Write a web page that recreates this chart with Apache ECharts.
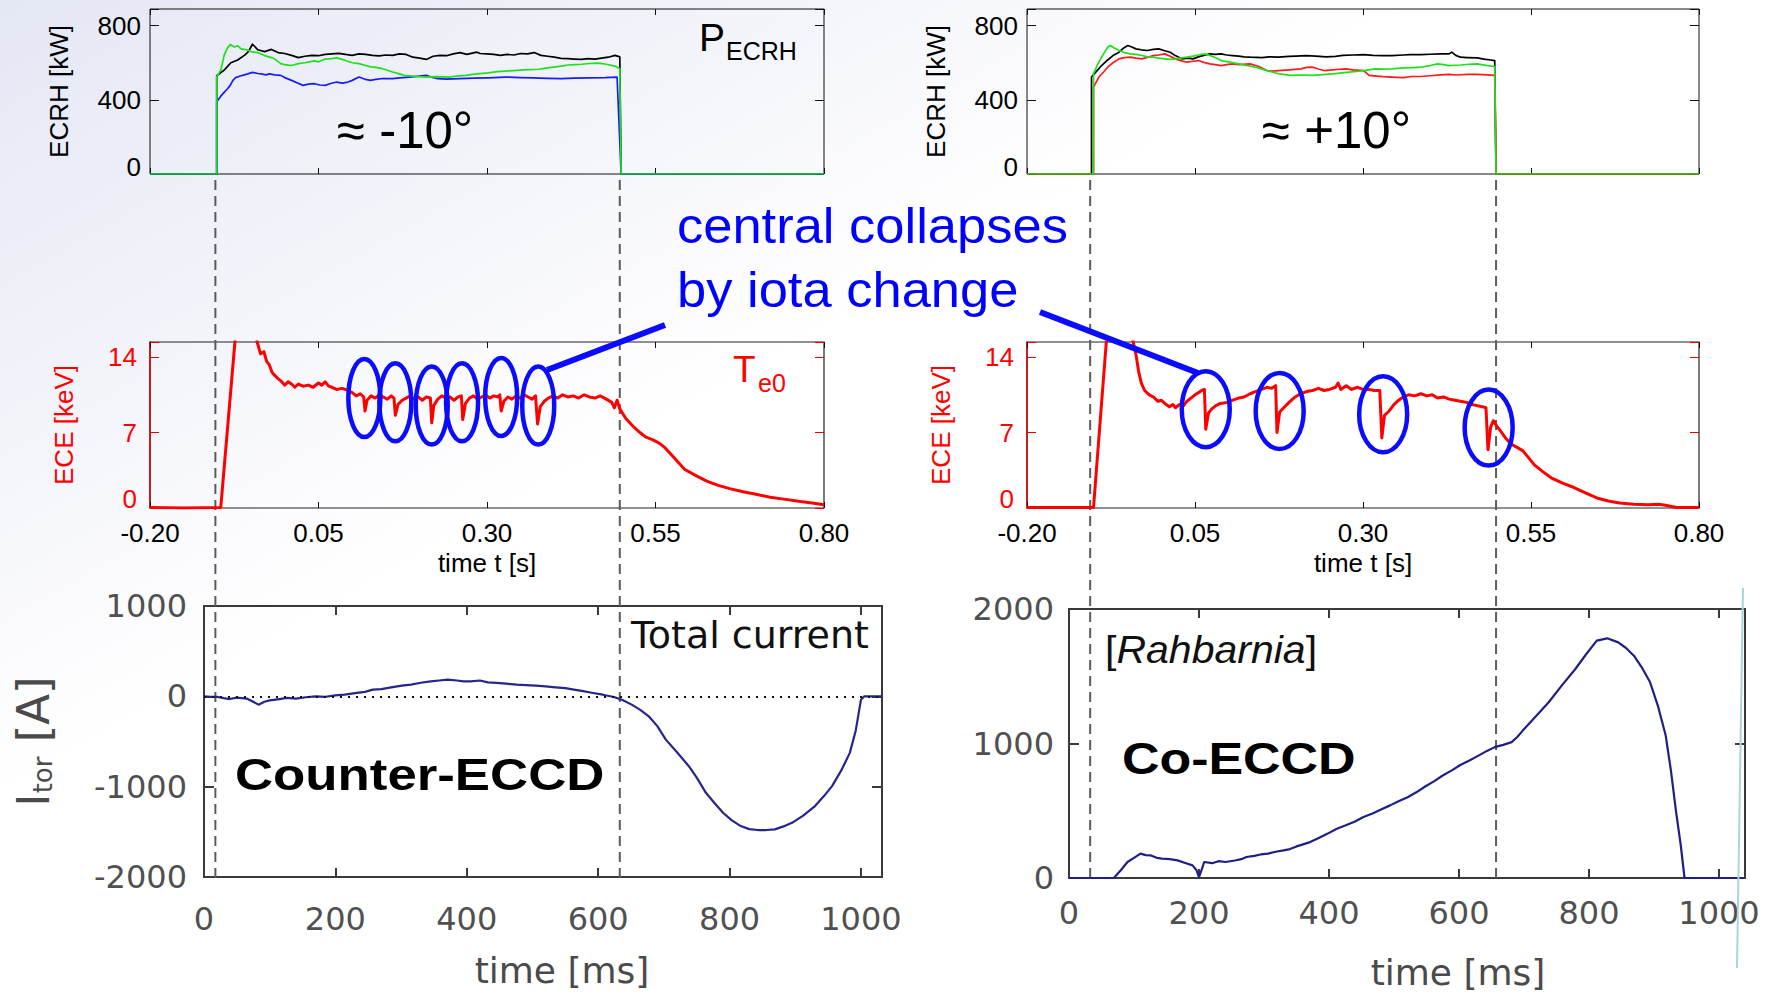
<!DOCTYPE html>
<html><head><meta charset="utf-8">
<script src="https://cdn.jsdelivr.net/npm/echarts@6/dist/echarts.min.js"></script>
<style>html,body{margin:0;padding:0;background:#fff}#c{width:1772px;height:996px}</style>
</head><body><div id="c"></div>
<script>
// ---------------- DATA ----------------
const timeTicks = [-0.20, 0.05, 0.30, 0.55, 0.80];
const ecrhTicks = [0, 400, 800];
const eceTicks = [0, 7, 14];
const msTicks = [0, 200, 400, 600, 800, 1000];
const itorLeftTicks = [-2000, -1000, 0, 1000];
const itorRightTicks = [0, 1000, 2000];

const dashTimesLeft = [-0.103, 0.497];
const dashTimesRight = [-0.106, 0.498];

const ecrhLeftBlack = [[-0.2,0],[-0.101,0],[-0.101,530],[-0.09,560],[-0.08,600],[-0.07,615],[-0.06,640],[-0.054,660],[-0.048,700],[-0.04,670],[-0.03,660],[-0.02,672],[-0.01,655],[0.0,650],[0.01,640],[0.02,628],[0.03,635],[0.04,640],[0.05,638],[0.06,645],[0.07,648],[0.08,651],[0.09,645],[0.10,640],[0.11,648],[0.12,645],[0.13,640],[0.14,637],[0.15,642],[0.16,640],[0.17,648],[0.18,645],[0.19,630],[0.20,625],[0.21,618],[0.22,635],[0.23,640],[0.24,638],[0.25,648],[0.26,655],[0.27,645],[0.285,657],[0.29,650],[0.30,648],[0.31,645],[0.32,640],[0.33,645],[0.34,642],[0.35,650],[0.36,648],[0.37,655],[0.38,640],[0.39,635],[0.40,630],[0.41,624],[0.42,622],[0.43,620],[0.44,618],[0.45,622],[0.46,620],[0.47,625],[0.48,630],[0.49,640],[0.497,632],[0.499,0],[0.8,0]];
const ecrhLeftBlue = [[-0.2,0],[-0.101,0],[-0.101,390],[-0.095,420],[-0.09,440],[-0.085,460],[-0.081,478],[-0.077,505],[-0.073,520],[-0.065,530],[-0.06,535],[-0.055,540],[-0.048,548],[-0.04,542],[-0.035,540],[-0.028,535],[-0.023,540],[-0.015,535],[-0.006,532],[0.0,520],[0.01,505],[0.018,492],[0.027,478],[0.035,485],[0.044,487],[0.052,480],[0.06,478],[0.068,488],[0.077,496],[0.085,490],[0.094,496],[0.10,505],[0.11,523],[0.118,512],[0.127,505],[0.135,510],[0.145,515],[0.16,514],[0.17,518],[0.185,523],[0.20,528],[0.21,532],[0.218,522],[0.227,514],[0.24,512],[0.26,514],[0.28,517],[0.302,519],[0.327,523],[0.35,520],[0.368,519],[0.39,516],[0.41,514],[0.43,517],[0.452,519],[0.475,520],[0.493,523],[0.499,0],[0.8,0]];
const ecrhLeftGreen = [[-0.2,0],[-0.101,0],[-0.101,525],[-0.095,560],[-0.09,640],[-0.085,680],[-0.081,698],[-0.075,685],[-0.07,692],[-0.065,675],[-0.056,670],[-0.05,660],[-0.04,655],[-0.031,640],[-0.02,628],[-0.015,620],[-0.006,595],[0.0,590],[0.01,585],[0.02,595],[0.03,600],[0.044,610],[0.05,605],[0.06,620],[0.07,622],[0.077,626],[0.085,618],[0.09,612],[0.10,600],[0.11,595],[0.12,585],[0.127,578],[0.135,575],[0.145,568],[0.16,550],[0.17,540],[0.177,532],[0.19,528],[0.20,525],[0.21,523],[0.225,525],[0.243,523],[0.255,528],[0.268,532],[0.285,540],[0.302,545],[0.315,552],[0.327,555],[0.34,558],[0.355,562],[0.377,565],[0.39,572],[0.41,582],[0.42,588],[0.43,590],[0.44,592],[0.452,596],[0.465,598],[0.477,592],[0.49,582],[0.497,568],[0.499,0],[0.8,0]];

const ecrhRightBlack = [[-0.2,0],[-0.104,0],[-0.104,523],[-0.095,560],[-0.089,585],[-0.08,615],[-0.072,639],[-0.063,657],[-0.056,680],[-0.05,693],[-0.044,685],[-0.038,675],[-0.03,670],[-0.021,666],[-0.012,672],[-0.004,675],[0.005,665],[0.013,657],[0.02,640],[0.03,621],[0.04,625],[0.047,621],[0.055,632],[0.063,640],[0.072,648],[0.08,645],[0.089,648],[0.097,642],[0.106,639],[0.115,636],[0.123,632],[0.132,630],[0.15,628],[0.16,632],[0.174,630],[0.19,634],[0.2,636],[0.216,639],[0.23,636],[0.245,632],[0.259,634],[0.27,640],[0.285,642],[0.301,644],[0.315,640],[0.33,638],[0.343,639],[0.36,642],[0.37,644],[0.386,644],[0.40,646],[0.415,648],[0.428,648],[0.432,657],[0.438,640],[0.445,630],[0.455,628],[0.47,626],[0.48,620],[0.49,615],[0.496,612],[0.498,0],[0.8,0]];
const ecrhRightRed = [[-0.2,0],[-0.101,0],[-0.101,469],[-0.093,523],[-0.086,550],[-0.08,576],[-0.072,600],[-0.063,621],[-0.055,628],[-0.046,630],[-0.038,625],[-0.029,621],[-0.02,630],[-0.012,639],[-0.004,642],[0.005,648],[0.013,635],[0.021,621],[0.03,610],[0.038,603],[0.047,608],[0.055,612],[0.063,602],[0.072,594],[0.08,590],[0.089,585],[0.097,590],[0.106,594],[0.115,590],[0.132,594],[0.145,580],[0.157,558],[0.165,555],[0.174,558],[0.19,562],[0.208,567],[0.216,575],[0.225,576],[0.235,565],[0.242,558],[0.255,562],[0.265,565],[0.275,567],[0.285,562],[0.301,558],[0.309,532],[0.32,528],[0.33,525],[0.343,523],[0.36,520],[0.372,526],[0.386,526],[0.40,530],[0.415,535],[0.428,537],[0.44,534],[0.455,537],[0.47,537],[0.485,535],[0.496,532],[0.498,0],[0.8,0]];
const ecrhRightGreen = [[-0.2,0],[-0.101,0],[-0.101,541],[-0.095,590],[-0.089,630],[-0.084,660],[-0.08,684],[-0.076,693],[-0.07,680],[-0.063,666],[-0.055,655],[-0.046,648],[-0.038,645],[-0.029,639],[-0.02,632],[-0.012,630],[-0.004,625],[0.005,621],[0.013,618],[0.021,621],[0.03,626],[0.038,630],[0.047,636],[0.055,642],[0.064,648],[0.072,640],[0.08,628],[0.089,612],[0.1,605],[0.115,594],[0.128,585],[0.14,576],[0.155,560],[0.174,541],[0.191,532],[0.205,534],[0.225,532],[0.24,536],[0.259,541],[0.275,548],[0.29,553],[0.301,558],[0.318,567],[0.33,566],[0.343,567],[0.36,572],[0.375,574],[0.386,576],[0.4,585],[0.411,594],[0.42,590],[0.428,585],[0.445,588],[0.458,592],[0.47,594],[0.485,585],[0.496,580],[0.498,0],[0.8,0]];

const eceLeft = [[-0.20,0.05],[-0.15,0.0],[-0.095,0.05],[-0.074,15.4],[-0.065,21],[-0.052,21],[-0.041,15.4],[-0.036,14.3],[-0.031,14.5],[-0.027,13.6],[-0.023,13.3],[-0.019,12.6],[-0.015,12.3],[-0.010,12.0],[-0.006,11.8],[0.000,11.4],[0.005,11.7],[0.010,11.5],[0.015,11.2],[0.020,11.5],[0.027,11.3],[0.035,11.4],[0.042,11.2],[0.050,11.6],[0.055,11.4],[0.060,11.7],[0.065,11.3],[0.070,11.2],[0.077,11.0],[0.085,11.1],[0.094,10.9],[0.100,10.7],[0.106,10.4],[0.112,10.6],[0.117,10.3],[0.119,9.0],[0.122,10.0],[0.128,10.4],[0.134,10.2],[0.140,10.5],[0.146,10.3],[0.152,10.1],[0.158,10.4],[0.162,10.2],[0.164,8.6],[0.168,9.6],[0.174,10.0],[0.180,10.2],[0.186,10.4],[0.192,10.1],[0.198,10.3],[0.204,10.0],[0.210,10.3],[0.216,10.2],[0.218,7.9],[0.221,9.5],[0.227,10.1],[0.233,10.4],[0.239,10.2],[0.245,10.3],[0.251,10.0],[0.257,10.3],[0.262,10.4],[0.264,8.2],[0.268,9.7],[0.274,10.2],[0.280,10.4],[0.286,10.1],[0.292,10.3],[0.298,10.5],[0.304,10.2],[0.310,10.4],[0.316,10.3],[0.319,10.5],[0.321,9.0],[0.325,9.9],[0.331,10.3],[0.337,10.1],[0.343,10.4],[0.349,10.2],[0.355,10.5],[0.361,10.3],[0.367,10.1],[0.372,10.4],[0.375,7.8],[0.379,9.4],[0.385,9.9],[0.391,10.2],[0.398,10.4],[0.405,10.2],[0.412,10.5],[0.420,10.3],[0.428,10.4],[0.436,10.2],[0.444,10.5],[0.452,10.3],[0.460,10.2],[0.468,10.4],[0.477,10.1],[0.485,9.8],[0.489,9.3],[0.493,10.0],[0.497,9.2],[0.506,8.3],[0.518,7.5],[0.527,7.0],[0.535,6.6],[0.547,6.3],[0.556,6.0],[0.564,5.6],[0.577,4.7],[0.593,3.6],[0.610,3.0],[0.626,2.5],[0.643,2.1],[0.660,1.8],[0.680,1.5],[0.701,1.25],[0.720,1.0],[0.743,0.8],[0.765,0.6],[0.785,0.45],[0.800,0.3]];
const eceRight = [[-0.20,0.05],[-0.15,0.05],[-0.101,0.05],[-0.082,15.4],[-0.07,22],[-0.055,22],[-0.042,15.4],[-0.038,14.3],[-0.034,12.7],[-0.030,11.6],[-0.025,10.9],[-0.018,10.5],[-0.012,10.3],[-0.005,9.9],[0.000,10.0],[0.005,9.7],[0.012,9.4],[0.017,9.6],[0.021,9.3],[0.027,9.6],[0.033,9.5],[0.038,9.9],[0.044,10.2],[0.050,10.5],[0.055,10.7],[0.060,10.9],[0.064,11.0],[0.066,7.3],[0.070,8.8],[0.075,9.2],[0.081,9.5],[0.088,9.7],[0.098,9.8],[0.106,10.0],[0.115,10.2],[0.123,10.3],[0.132,10.6],[0.140,10.8],[0.149,11.0],[0.157,11.2],[0.164,11.1],[0.170,11.35],[0.172,7.0],[0.176,8.9],[0.182,9.3],[0.190,9.8],[0.199,10.3],[0.207,10.6],[0.216,10.8],[0.225,10.9],[0.234,11.1],[0.242,10.9],[0.250,11.0],[0.259,11.2],[0.263,11.6],[0.267,11.0],[0.275,11.35],[0.283,11.0],[0.292,11.2],[0.300,11.0],[0.309,11.0],[0.317,10.9],[0.325,10.9],[0.328,6.5],[0.332,8.6],[0.339,9.0],[0.346,9.6],[0.353,10.0],[0.360,10.3],[0.368,10.5],[0.377,10.4],[0.386,10.6],[0.395,10.4],[0.403,10.5],[0.411,10.2],[0.420,10.3],[0.428,10.1],[0.437,10.0],[0.445,9.9],[0.454,9.8],[0.462,9.6],[0.470,9.5],[0.477,9.4],[0.483,9.3],[0.486,5.4],[0.490,7.5],[0.494,8.1],[0.499,7.6],[0.504,7.2],[0.512,6.5],[0.521,5.9],[0.530,5.6],[0.538,5.3],[0.546,4.7],[0.555,4.0],[0.567,3.4],[0.580,2.8],[0.597,2.3],[0.614,1.9],[0.631,1.4],[0.648,0.93],[0.665,0.65],[0.682,0.47],[0.703,0.35],[0.724,0.3],[0.740,0.35],[0.750,0.25],[0.767,0.05],[0.800,0.05]];

const collapsesLeft = [[0.118,10.2],[0.164,9.8],[0.218,9.5],[0.263,9.8],[0.321,10.3],[0.376,9.5]];
const collapsesRight = [[0.066,9.17],[0.176,9.0],[0.330,8.7],[0.487,7.46]];

const itorLeft = [[0,0],[10,-5],[21,-7],[30,-20],[39,-30],[50,-15],[65,-25],[75,-60],[83,-92],[92,-60],[100,-45],[115,-30],[126,-18],[140,-25],[155,-10],[170,0],[185,-5],[200,10],[214,18],[230,35],[245,50],[257,74],[270,80],[285,100],[301,118],[315,130],[330,150],[345,166],[358,175],[371,184],[385,175],[395,165],[406,166],[420,175],[432,155],[445,150],[460,140],[476,129],[490,125],[505,118],[520,110],[535,100],[550,90],[563,74],[575,60],[590,40],[607,18],[624,-7],[637,-40],[651,-92],[664,-150],[677,-221],[690,-330],[703,-479],[720,-620],[738,-773],[750,-900],[764,-1068],[777,-1180],[790,-1289],[803,-1370],[817,-1436],[830,-1470],[843,-1480],[856,-1480],[869,-1473],[882,-1440],[895,-1400],[912,-1320],[930,-1215],[943,-1110],[956,-994],[970,-820],[983,-626],[992,-380],[1000,-37],[1005,0],[1032,0]];
const itorRight = [[0,0],[40,0],[69,0],[80,60],[90,119],[100,150],[110,181],[118,170],[126,168],[135,150],[143,144],[155,140],[167,131],[180,110],[190,94],[196,60],[200,7],[204,60],[208,119],[220,110],[230,125],[241,119],[255,130],[265,140],[273,156],[285,165],[295,175],[306,181],[318,195],[330,205],[340,215],[350,235],[360,250],[371,267],[385,300],[398,330],[412,366],[425,390],[440,420],[453,453],[467,480],[480,510],[494,540],[507,570],[521,600],[535,639],[548,680],[562,720],[575,762],[589,800],[602,840],[616,874],[630,910],[643,945],[655,973],[668,990],[681,1010],[690,1050],[698,1096],[718,1200],[738,1307],[758,1430],[779,1554],[795,1660],[812,1765],[828,1782],[845,1752],[857,1710],[869,1653],[882,1560],[894,1455],[906,1280],[918,1059],[926,800],[934,490],[941,250],[947,0],[1038,0]];

// ---------------- LAYOUT / STYLE ----------------
const FONT = '"Liberation Sans", Arial, sans-serif';
const DVS = '"DejaVu Sans", sans-serif';
const GRIDS = [
  {left:150, top:9, width:674, height:165},
  {left:1027, top:9, width:672, height:165},
  {left:150, top:342, width:674, height:166},
  {left:1027, top:342, width:672, height:166},
  {left:204, top:606, width:678, height:271},
  {left:1069, top:609, width:676, height:269},
  {left:150, top:176, width:674, height:702},
  {left:1027, top:176, width:672, height:702}
];
const gridBorders = [
  ['#111',1],['#111',1],['#222',1.2],['#222',1.2],['#3a3a3a',2],['#3a3a3a',2],null,null
];

function near(list, v){ return list.some(t => Math.abs(t - v) < 1e-6); }
const xAxes = [], yAxes = [];
function axisDef(gi, pos, o, mirror) {
  const a = {
    gridIndex: gi, type:'value', position: pos, min:o.min, max:o.max, interval:o.interval,
    axisLine: {show: !mirror && !!o.lineColor, onZero:false, lineStyle:{color:o.lineColor || '#000', width:1.5}},
    axisTick: {show:true, inside:true, length:o.tickLen, lineStyle:{color:o.tickColor, width:o.tickWidth || 1}},
    splitLine: {show:false},
    axisLabel: {show:false}
  };
  if (!mirror && o.labels) {
    a.axisLabel = {show:true, margin:o.margin, color:o.labelColor, fontSize:o.fontSize, fontFamily:o.fontFamily,
      formatter: v => {
        if (!near(o.ticks, v)) return '';
        if (o.zeroUp && Math.abs(v) < 1e-9) return '{z|' + o.fmt(v) + '}';
        return o.fmt(v);
      },
      rich: o.zeroUp ? {z:{fontSize:o.fontSize, fontFamily:o.fontFamily, color:o.labelColor, padding:[0,0,o.zeroUp,0]}} : undefined};
  }
  if (!mirror && o.name) {
    a.name = o.name; a.nameLocation = 'middle'; a.nameGap = o.nameGap;
    if (o.nameRotate !== undefined) a.nameRotate = o.nameRotate;
    a.nameTextStyle = o.nameStyle;
  }
  return a;
}
function boxAxes(gi, xo, yo) {
  xAxes.push(axisDef(gi, 'bottom', xo, false));
  xAxes.push(axisDef(gi, 'top', xo, true));
  yAxes.push(axisDef(gi, 'left', yo, false));
  yAxes.push(axisDef(gi, 'right', yo, true));
}
const fmt2 = v => v.toFixed(2);
const fmtI = v => String(v);

// grid 0,1: ECRH
for (const gi of [0,1]) {
  boxAxes(gi,
    {min:-0.2, max:0.8, interval:0.25, ticks:timeTicks, labels:false, tickLen:6, tickColor:'#111'},
    {min:0, max:890, interval:400, ticks:ecrhTicks, labels:true, fmt:fmtI, margin:9, labelColor:'#000', fontSize:26, fontFamily:FONT,
     zeroUp:14, tickLen:9, tickColor:'#111', name:'ECRH [kW]', nameGap:78, nameRotate:90,
     nameStyle:{fontSize:26, fontFamily:FONT, color:'#000'}});
}
// grid 2,3: ECE
for (const gi of [2,3]) {
  boxAxes(gi,
    {min:-0.2, max:0.8, interval:0.25, ticks:timeTicks, labels:true, fmt:fmt2, margin:12, labelColor:'#000', fontSize:26, fontFamily:FONT,
     tickLen:6, tickColor:'#111', name:'time t [s]', nameGap:42, nameStyle:{fontSize:26, fontFamily:FONT, color:'#000'}},
    {min:0, max:15.4, interval:7, ticks:eceTicks, labels:true, fmt:fmtI, margin:13, labelColor:'#ff0000', fontSize:26, fontFamily:FONT,
     zeroUp:18, tickLen:9, tickColor:'#e00000', lineColor:'#e00000', name:'ECE [keV]', nameGap:73, nameRotate:90,
     nameStyle:{fontSize:26, fontFamily:FONT, color:'#ff0000'}});
}
// grid 4: I_tor left
boxAxes(4,
  {min:0, max:1032, interval:200, ticks:msTicks, labels:true, fmt:fmtI, margin:26, labelColor:'#505050', fontSize:32, fontFamily:DVS,
   tickLen:9, tickColor:'#3a3a3a', tickWidth:2, name:'time [ms]', nameGap:75,
   nameStyle:{fontSize:36, fontFamily:DVS, color:'#4a4a4a', padding:[0,0,0,38]}},
  {min:-2000, max:1000, interval:1000, ticks:itorLeftTicks, labels:true, fmt:fmtI, margin:17, labelColor:'#505050', fontSize:32, fontFamily:DVS,
   tickLen:10, tickColor:'#3a3a3a', tickWidth:2, name:'{i|I}{s|tor}{i| [A]}', nameGap:148, nameRotate:90,
   nameStyle:{color:'#4a4a4a', fontFamily:DVS, rich:{
     i:{fontSize:45, fontFamily:DVS, color:'#4a4a4a', verticalAlign:'bottom'},
     s:{fontSize:26, fontFamily:DVS, color:'#4a4a4a', verticalAlign:'bottom'}}}});
// grid 5: I_tor right
boxAxes(5,
  {min:0, max:1040, interval:200, ticks:msTicks, labels:true, fmt:fmtI, margin:19, labelColor:'#505050', fontSize:32, fontFamily:DVS,
   tickLen:9, tickColor:'#3a3a3a', tickWidth:2, name:'time [ms]', nameGap:76,
   nameStyle:{fontSize:36, fontFamily:DVS, color:'#4a4a4a', padding:[0,0,0,102]}},
  {min:0, max:2000, interval:1000, ticks:itorRightTicks, labels:true, fmt:fmtI, margin:15, labelColor:'#505050', fontSize:32, fontFamily:DVS,
   tickLen:10, tickColor:'#3a3a3a', tickWidth:2});
// overlay grids 6,7 (dashed timing lines)
for (const gi of [6,7]) {
  xAxes.push({gridIndex:gi, type:'value', min:-0.2, max:0.8, show:false, axisLine:{onZero:false}});
  yAxes.push({gridIndex:gi, type:'value', min:0, max:1, show:false, axisLine:{onZero:false}});
}

const grids = GRIDS.map((g, i) => {
  const b = gridBorders[i];
  return Object.assign({}, g, {containLabel:false, outerBoundsMode:'none',
    show: !!b, borderColor: b ? b[0] : 'transparent', borderWidth: b ? b[1] : 0, backgroundColor:'transparent'});
});

function lineS(gi, data, color, width, z) {
  return {type:'line', xAxisIndex: gi < 6 ? 2*gi : 6 + gi, yAxisIndex: gi < 6 ? 2*gi : 6 + gi,
    data, symbol:'none', showSymbol:false, silent:true, animation:false, z: z || 3,
    lineStyle:{color, width, join:'round'}};
}
function ellipseS(gi, data, rx, ry) {
  return {type:'custom', xAxisIndex:2*gi, yAxisIndex:2*gi, data, silent:true, animation:false, z:6,
    renderItem: (params, api) => {
      const c = api.coord([api.value(0), api.value(1)]);
      return {type:'ellipse', shape:{cx:c[0], cy:c[1], rx, ry},
        style:{fill:'none', stroke:'#0b0bff', lineWidth:4.5}};
    }};
}
function dashS(gi, t) {
  const s = lineS(gi, [[t,0],[t,1]], '#5c5c5c', 2, 1);
  s.lineStyle.type = [10,6];
  return s;
}

const series = [
  lineS(0, ecrhLeftBlack, '#000000', 1.7),
  lineS(0, ecrhLeftBlue, '#1a1aff', 1.7),
  lineS(0, ecrhLeftGreen, '#1ee01e', 1.7),
  lineS(1, ecrhRightBlack, '#000000', 1.7),
  lineS(1, ecrhRightRed, '#ff1a1a', 1.7),
  lineS(1, ecrhRightGreen, '#1ee01e', 1.7),
  lineS(2, eceLeft, '#ff0000', 3),
  lineS(3, eceRight, '#ff0000', 3),
  ellipseS(2, collapsesLeft, 16, 39),
  ellipseS(3, collapsesRight, 24, 38),
  Object.assign(lineS(4, itorLeft, '#25258c', 2.2), {
    markLine:{silent:true, symbol:'none', animation:false, label:{show:false},
      lineStyle:{type:[2,6], color:'#111', width:2}, data:[{yAxis:0}]}}),
  lineS(5, itorRight, '#1f1f85', 2.2)
];
dashTimesLeft.forEach(t => series.push(dashS(6, t)));
dashTimesRight.forEach(t => series.push(dashS(7, t)));

function txt(x, y, text, size, color, opts) {
  opts = opts || {};
  return Object.assign({type:'text', x, y, z:20, silent:true,
    style:Object.assign({text, fontSize:size, fontFamily:opts.family || FONT, fontWeight:opts.weight || 'normal',
      fontStyle: opts.italic ? 'italic' : 'normal', fill:color, align:'left', verticalAlign:'middle'}, opts.style || {})},
    opts.scaleX ? {scaleX: opts.scaleX} : {});
}

const graphic = [
  txt(337, 130, '≈ -10°', 51, '#000'),
  txt(1262, 130, '≈ +10°', 51, '#000'),
  txt(699, 37, 'P', 39, '#000'),
  txt(726, 51, 'ECRH', 25, '#000'),
  txt(733, 369, 'T', 37, '#ff0000'),
  txt(758, 383, 'e0', 25, '#ff0000'),
  txt(677, 226, 'central collapses', 50, '#0000ff', {scaleX:1.05}),
  txt(677, 290, 'by iota change', 50, '#0000ff', {scaleX:1.05}),
  txt(631, 635, 'Total current', 38, '#111', {family:DVS}),
  txt(235, 775, 'Counter-ECCD', 44, '#000', {weight:'bold', scaleX:1.2}),
  {type:'text', x:1105, y:650, z:20, silent:true, scaleX:1.08,
    style:{text:'{n|[}{it|Rahbarnia}{n|]}', fontSize:38, fontFamily:FONT, fill:'#111', align:'left', verticalAlign:'middle',
      rich:{n:{fontSize:38, fontFamily:FONT, fill:'#111'}, it:{fontSize:38, fontFamily:FONT, fontStyle:'italic', fill:'#111'}}}},
  txt(1122, 758, 'Co-ECCD', 44, '#000', {weight:'bold', scaleX:1.18}),
  {type:'line', z:7, silent:true, shape:{x1:547, y1:370, x2:665, y2:325}, style:{stroke:'#0b0bff', lineWidth:6}},
  {type:'line', z:7, silent:true, shape:{x1:1040, y1:312, x2:1198, y2:373}, style:{stroke:'#0b0bff', lineWidth:6}},
  {type:'line', z:7, silent:true, shape:{x1:1743, y1:588, x2:1737, y2:968}, style:{stroke:'#a6d6da', lineWidth:2}}
];

const chart = echarts.init(document.getElementById('c'), null, {renderer:'svg', width:1772, height:996});
chart.setOption({
  animation:false,
  backgroundColor: new echarts.graphic.LinearGradient(0, 0, 1, 1, [
    {offset:0, color:'#e4e7f4'}, {offset:0.25, color:'#f5f6fb'}, {offset:0.4, color:'#ffffff'}, {offset:1, color:'#ffffff'}]),
  textStyle:{fontFamily:FONT},
  grid: grids,
  xAxis: xAxes,
  yAxis: yAxes,
  series,
  graphic
});
</script>
</body></html>
